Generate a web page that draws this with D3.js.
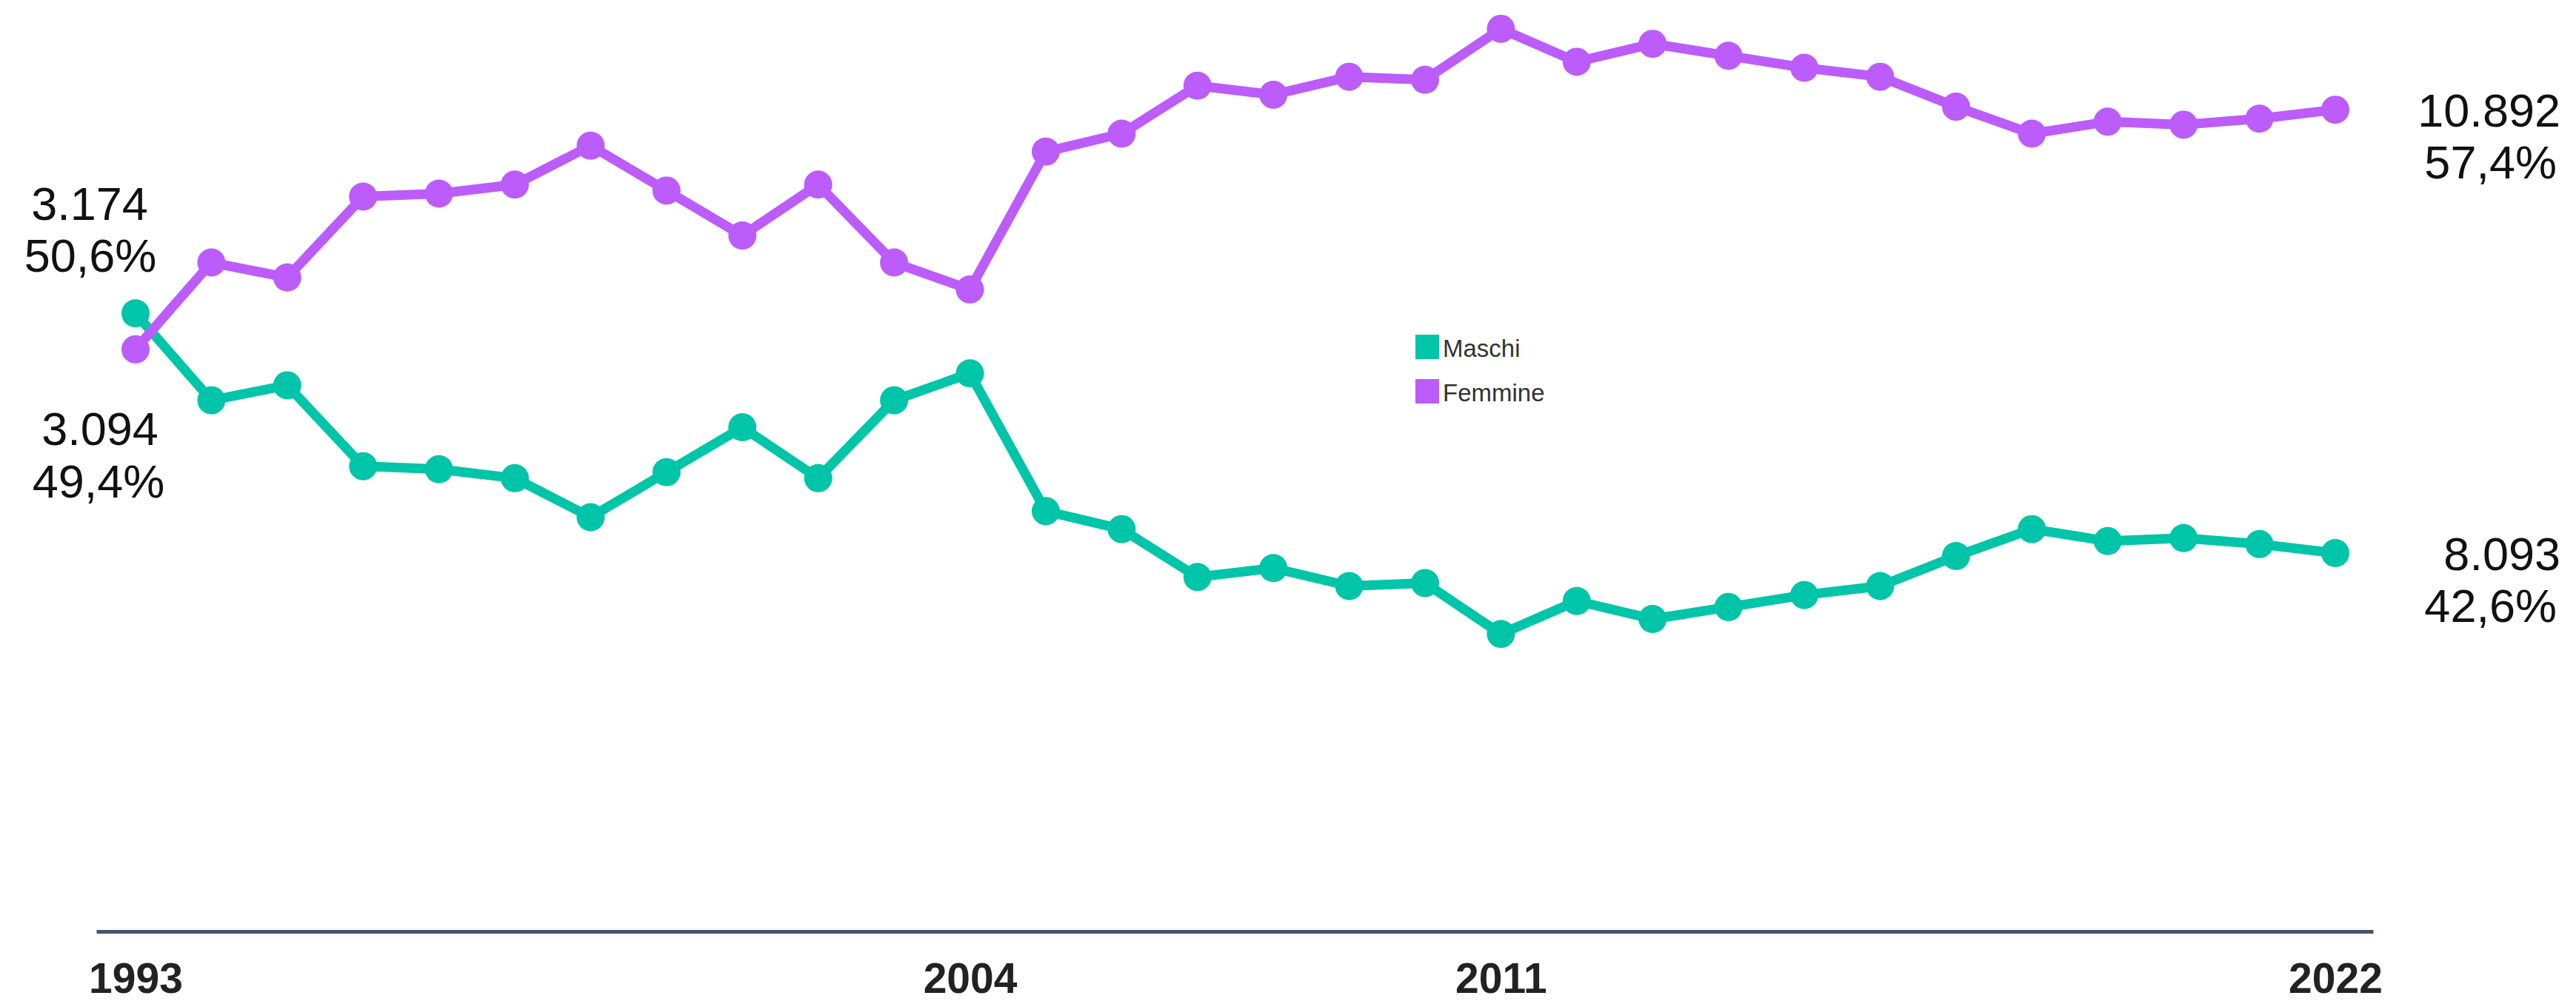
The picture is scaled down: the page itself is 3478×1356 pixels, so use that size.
<html>
  <head>
    <meta charset="UTF-8">
    <script src="https://d3js.org/d3.v7.min.js"></script>
    <style>
      body {
        margin: 0;
        background: #fff;
        font-family: "Liberation Sans", Arial, Helvetica, sans-serif;
      }
      svg { display: block; }
      text.end { font-size: 63px; fill: #111; }
      .axis text { font-size: 57px; font-weight: bold; fill: #222; }
      .legend text { font-size: 33px; fill: #333; }
    </style>
  </head>
  <body>
    <svg width="3478" height="1356"></svg>
    <script>
      // share (%) by year
      const years = d3.range(1993, 2023);
      const maschi = [50.6, 47.7, 48.2, 45.5, 45.4, 45.1, 43.8, 45.3, 46.8, 45.1,
                      47.7, 48.6, 44.0, 43.4, 41.8, 42.1, 41.5, 41.6, 39.9, 41.0,
                      40.4, 40.8, 41.2, 41.5, 42.5, 43.4, 43.0, 43.1, 42.9, 42.6];
      const femmine = [49.4, 52.3, 51.8, 54.5, 54.6, 54.9, 56.2, 54.7, 53.2, 54.9,
                       52.3, 51.4, 56.0, 56.6, 58.2, 57.9, 58.5, 58.4, 60.1, 59.0,
                       59.6, 59.2, 58.8, 58.5, 57.5, 56.6, 57.0, 56.9, 57.1, 57.4];
      const tickYears = [1993, 2004, 2011, 2022];
      const seriesNames = ["Maschi", "Femmine"];
      const colors = ["#00c5a8", "#bc5cfa"];
      // first / last labels: count and share
      const firstLabels = [["3.174", "50,6%"], ["3.094", "49,4%"]];
      const lastLabels = [["8.093", "42,6%"], ["10.892", "57,4%"]];

      const svg = d3.select("svg");

      const x = d3.scaleLinear().domain([1993, 2022]).range([183, 3153]);
      const y = d3.scaleLinear().domain([40, 61]).range([852.2, 2.5]);

      // axis line runs a bit past the first/last year
      const xAxisScale = d3.scaleLinear()
        .domain([x.invert(130), x.invert(3204)])
        .range([130, 3204]);

      const axis = svg.append("g")
        .attr("class", "axis")
        .attr("transform", "translate(0,1258)")
        .call(d3.axisBottom(xAxisScale)
          .tickValues(tickYears)
          .tickFormat(d3.format("d"))
          .tickSize(0)
          .tickPadding(43));
      axis.select(".domain")
        .attr("stroke", "#44546a")
        .attr("stroke-width", 5);
      axis.selectAll("text").attr("font-family", null).attr("font-size", null);

      const series = [maschi, femmine];
      const line = d3.line().x((d, i) => x(years[i])).y((d) => y(d));

      series.forEach((vals, s) => {
        const g = svg.append("g");
        g.append("path")
          .datum(vals)
          .attr("fill", "none")
          .attr("stroke", colors[s])
          .attr("stroke-width", 13)
          .attr("stroke-linejoin", "round")
          .attr("d", line);
        g.selectAll("circle")
          .data(vals)
          .join("circle")
          .attr("cx", (d, i) => x(years[i]))
          .attr("cy", (d) => y(d))
          .attr("r", 19)
          .attr("fill", colors[s]);
      });

      // labels at the start (left) and end (right)
      const labels = svg.append("g");
      // maschi first value sits above, femmine below
      labels.append("text").attr("class", "end").attr("text-anchor", "middle")
        .attr("x", x(1993) - 62).attr("y", y(maschi[0]) - 126).text(firstLabels[0][0]);
      labels.append("text").attr("class", "end").attr("text-anchor", "middle")
        .attr("x", x(1993) - 61).attr("y", y(maschi[0]) - 56).text(firstLabels[0][1]);
      labels.append("text").attr("class", "end").attr("text-anchor", "middle")
        .attr("x", x(1993) - 48).attr("y", y(femmine[0]) + 129).text(firstLabels[1][0]);
      labels.append("text").attr("class", "end").attr("text-anchor", "middle")
        .attr("x", x(1993) - 50).attr("y", y(femmine[0]) + 200).text(firstLabels[1][1]);

      const n = years.length - 1;
      [[femmine, lastLabels[1]], [maschi, lastLabels[0]]].forEach(([vals, lab]) => {
        labels.append("text").attr("class", "end").attr("text-anchor", "end")
          .attr("x", 3457).attr("y", y(vals[n]) + 23).text(lab[0]);
        labels.append("text").attr("class", "end").attr("text-anchor", "end")
          .attr("x", 3452).attr("y", y(vals[n]) + 93).text(lab[1]);
      });

      // legend
      const legend = svg.append("g").attr("class", "legend")
        .attr("transform", "translate(1911,452)");
      seriesNames.forEach((name, i) => {
        legend.append("rect")
          .attr("x", 0).attr("y", i * 60)
          .attr("width", 32).attr("height", 33)
          .attr("fill", colors[i]);
        legend.append("text")
          .attr("x", 37).attr("y", i * 60 + 30)
          .text(name);
      });
    </script>
  </body>
</html>
